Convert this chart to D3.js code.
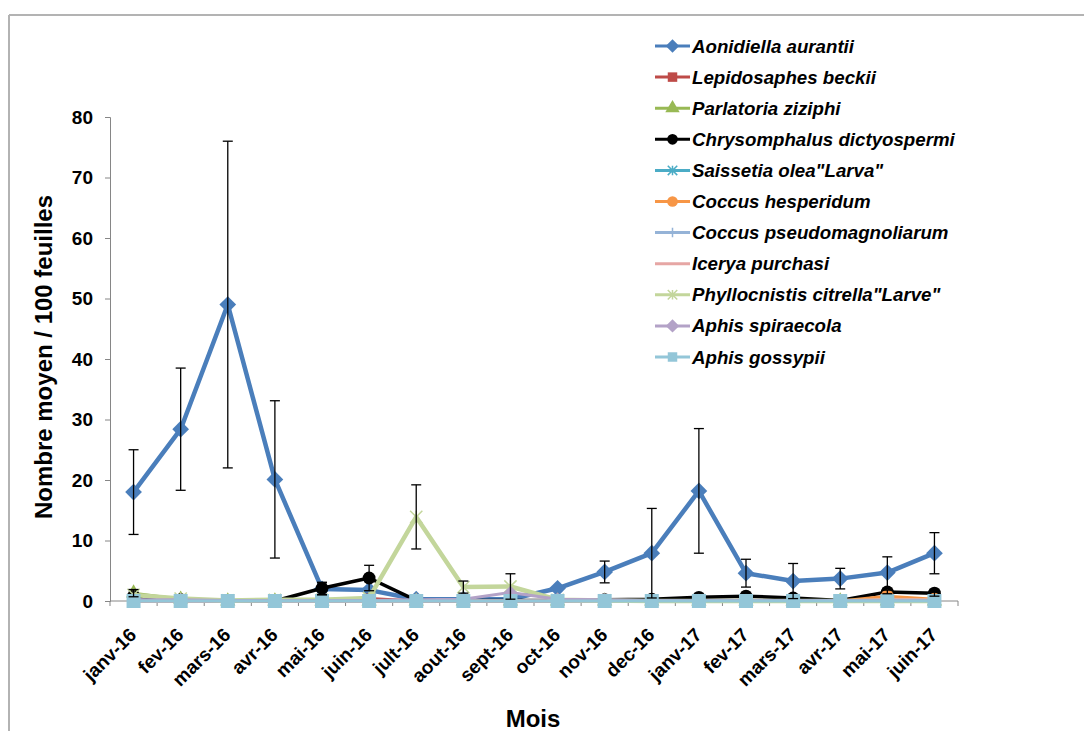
<!DOCTYPE html>
<html><head><meta charset="utf-8">
<script src="https://cdn.jsdelivr.net/npm/d3@7"></script>
<style>html,body{margin:0;padding:0;background:#fff;}svg{display:block;font-family:"Liberation Sans",Arial,sans-serif;}</style>
</head><body>
<script>
const months = ["janv-16","fev-16","mars-16","avr-16","mai-16","juin-16","jult-16","aout-16","sept-16","oct-16","nov-16","dec-16","janv-17","fev-17","mars-17","avr-17","mai-17","juin-17"];
const yTicks = [0,10,20,30,40,50,60,70,80];
const seriesNames = ["Aonidiella aurantii","Lepidosaphes beckii","Parlatoria ziziphi","Chrysomphalus dictyospermi","Saissetia olea\"Larva\"","Coccus hesperidum","Coccus pseudomagnoliarum","Icerya purchasi","Phyllocnistis citrella\"Larve\"","Aphis spiraecola","Aphis gossypii"];
const aonidiella   = [18, 28.4, 49, 20.1, 2.0, 1.8, 0.3, 0.3, 0.3, 2.1, 4.8, 7.9, 18.2, 4.6, 3.3, 3.7, 4.7, 7.9];
const aonidiellaSD = [7, 10.1, 27, 13, 1.0, 0, 0, 0, 0, 0, 1.8, 7.4, 10.3, 2.3, 2.9, 1.7, 2.6, 3.4];
const lepidosaphes = [0, 0, 0, 0, 0.1, 0.4, 0, 0, 0, 0, 0, 0, 0, 0, 0, 0, 0.1, 0.1];
const parlatoria   = [1.3, 0.3, 0, 0, 0, 0, 0, 0, 0, 0, 0, 0, 0, 0, 0, 0, 0, 0];
const parlatoriaSD = [0.6, 0, 0, 0, 0, 0, 0, 0, 0, 0, 0, 0, 0, 0, 0, 0, 0, 0];
const chrysomphalus   = [0.8, 0.2, 0, 0, 2.1, 3.8, 0.1, 0.1, 0.1, 0.1, 0.2, 0.3, 0.6, 0.8, 0.5, 0.1, 1.5, 1.3];
const chrysomphalusSD = [0, 0, 0, 0, 1.0, 2.1, 0, 0, 0, 0, 0, 0, 0, 0, 0, 0, 0.3, 0.5];
const saissetia    = [0, 0, 0, 0, 0, 0, 0, 0, 0, 0, 0.1, 0.1, 0.1, 0.1, 0, 0, 0, 0];
const coccusHesp   = [0, 0, 0, 0, 0, 0, 0, 0, 0, 0, 0, 0, 0, 0, 0, 0, 0.8, 0.3];
const coccusPseudo = [0, 0, 0, 0, 0, 0, 0, 0, 0, 0, 0, 0, 0, 0, 0, 0, 0, 0];
const icerya       = [0, 0, 0, 0, 0, 0, 0, 0, 0, 0, 0, 0, 0, 0, 0, 0, 0.3, 0.2];
const phyllocnistis   = [1.0, 0.4, 0.1, 0.2, 0.2, 0.5, 13.9, 2.3, 2.4, 0.2, 0.1, 0, 0, 0, 0, 0, 0, 0];
const phyllocnistisSD = [0, 0, 0, 0, 0, 0, 5.3, 1.0, 2.1, 0, 0, 0, 0, 0, 0, 0, 0, 0];
const spiraecola   = [0.2, 0.2, 0.1, 0.1, 0.1, 0.1, 0.2, 0.3, 1.4, 0.3, 0.2, 0.1, 0.1, 0.1, 0.1, 0.1, 0.1, 0.1];
const gossypii     = [0, 0, 0, 0, 0, 0, 0, 0, 0, 0, 0, 0, 0, 0, 0, 0, 0, 0];

const W = 1084, H = 731;
const svg = d3.select("body").append("svg").attr("width", W).attr("height", H);

const series = [
  {name: seriesNames[0], values: aonidiella, sd: aonidiellaSD, color: "#4A7EBB", marker: "diamond", size: 140, width: 4.5},
  {name: seriesNames[1], values: lepidosaphes, color: "#BE4B48", marker: "square", size: 100, width: 3},
  {name: seriesNames[2], values: parlatoria, sd: parlatoriaSD, color: "#98B954", marker: "triangle", size: 100, width: 3},
  {name: seriesNames[3], values: chrysomphalus, sd: chrysomphalusSD, color: "#000000", marker: "circle", size: 130, width: 3.5},
  {name: seriesNames[4], values: saissetia, color: "#4BACC6", marker: "star", size: 120, width: 3},
  {name: seriesNames[5], values: coccusHesp, color: "#F79646", marker: "circle", size: 130, width: 3},
  {name: seriesNames[6], values: coccusPseudo, color: "#95B3D7", marker: "plus", size: 120, width: 3},
  {name: seriesNames[7], values: icerya, color: "#E6A6A4", marker: "none", size: 0, width: 3},
  {name: seriesNames[8], values: phyllocnistis, sd: phyllocnistisSD, color: "#C3D69B", marker: "star", size: 150, width: 4.5},
  {name: seriesNames[9], values: spiraecola, color: "#B3A2C7", marker: "diamond", size: 90, width: 3},
  {name: seriesNames[10], values: gossypii, color: "#93C6D8", marker: "square", size: 196, width: 3}
];

// frame
svg.append("line").attr("x1", 9).attr("y1", 15).attr("x2", W).attr("y2", 15).attr("stroke", "#b3b3b3").attr("stroke-width", 2);
svg.append("line").attr("x1", 9).attr("y1", 15).attr("x2", 9).attr("y2", 731).attr("stroke", "#b3b3b3").attr("stroke-width", 2);

const x = d3.scaleBand().domain(months).range([110, 958]);
const cx = m => x(m) + x.bandwidth() / 2;
const y = d3.scaleLinear().domain([0, 80]).range([601, 117]);

// y axis
const yAxis = svg.append("g").attr("transform", "translate(110,0)")
  .call(d3.axisLeft(y).tickValues(yTicks).tickSize(5).tickPadding(12).tickFormat(d3.format("d")));
yAxis.select(".domain").attr("stroke", "#868686");
yAxis.selectAll(".tick line").attr("stroke", "#868686");
yAxis.selectAll("text").attr("font-size", 19).attr("font-weight", "bold").attr("fill", "#000")
  .attr("font-family", "Liberation Sans, Arial, sans-serif");

// x axis
const xg = svg.append("g").attr("transform", "translate(0,601)");
xg.append("line").attr("x1", 110).attr("x2", 958).attr("stroke", "#868686");
const bounds = months.map(m => x(m)).concat([x.range()[1]]);
xg.selectAll("line.tk").data(bounds).join("line").attr("class", "tk")
  .attr("x1", d => d).attr("x2", d => d).attr("y1", 0).attr("y2", 5).attr("stroke", "#868686");
svg.append("g").selectAll("text").data(months).join("text")
  .attr("transform", d => `translate(${cx(d) + 4},636) rotate(-45)`)
  .attr("text-anchor", "end").attr("font-size", 19).attr("font-weight", "bold").text(d => d);

// axis titles
svg.append("text").attr("transform", "translate(52,357) rotate(-90)").attr("text-anchor", "middle")
  .attr("font-size", 24).attr("font-weight", "bold").text("Nombre moyen / 100 feuilles");
svg.append("text").attr("x", 533).attr("y", 727).attr("text-anchor", "middle")
  .attr("font-size", 24).attr("font-weight", "bold").text("Mois");

function markerPath(type, size) {
  switch (type) {
    case "diamond": return d3.symbol(d3.symbolSquare, size)();
    case "square": return d3.symbol(d3.symbolSquare, size)();
    case "triangle": return d3.symbol(d3.symbolTriangle, size)();
    case "circle": return d3.symbol(d3.symbolCircle, size)();
    default: return null;
  }
}
function drawMarker(g, s, px, py) {
  if (s.marker === "star") {
    const r = Math.sqrt(s.size) / 2;
    g.append("path").attr("transform", `translate(${px},${py})`)
      .attr("d", `M${-r},${-r}L${r},${r}M${-r},${r}L${r},${-r}M0,${-r}L0,${r}`)
      .attr("stroke", s.color).attr("stroke-width", 1.5).attr("fill", "none");
  } else if (s.marker === "plus") {
    const r = Math.sqrt(s.size) / 2;
    g.append("path").attr("transform", `translate(${px},${py})`)
      .attr("d", `M${-r},0L${r},0M0,${-r}L0,${r}`)
      .attr("stroke", s.color).attr("stroke-width", 1.5).attr("fill", "none");
  } else if (s.marker !== "none") {
    const rot = s.marker === "diamond" ? " rotate(45)" : "";
    g.append("path").attr("transform", `translate(${px},${py})${rot}`)
      .attr("d", markerPath(s.marker, s.size)).attr("fill", s.color);
  }
}

const line = d3.line().x((d, i) => cx(months[i])).y(d => y(d));
const plot = svg.append("g");
series.forEach(s => {
  const g = plot.append("g");
  g.append("path").datum(s.values).attr("d", line).attr("fill", "none")
    .attr("stroke", s.color).attr("stroke-width", s.width).attr("stroke-linejoin", "round");
  s.values.forEach((v, i) => drawMarker(g, s, cx(months[i]), y(v)));
});

// error bars
const eg = svg.append("g");
series.filter(s => s.sd).forEach(s => {
  s.values.forEach((v, i) => {
    const e = s.sd[i];
    if (!e) return;
    const px = cx(months[i]);
    const top = y(v + e), bot = y(v - e);
    eg.append("line").attr("x1", px).attr("x2", px).attr("y1", top).attr("y2", bot).attr("stroke", "#000").attr("stroke-width", 1.3);
    [top, bot].forEach(yy => eg.append("line").attr("x1", px - 5).attr("x2", px + 5).attr("y1", yy).attr("y2", yy).attr("stroke", "#000").attr("stroke-width", 1.3));
  });
});

// legend
const lg = svg.append("g");
series.forEach((s, i) => {
  const ly = 46 + i * 31.1;
  const row = lg.append("g");
  row.append("line").attr("x1", 655).attr("x2", 690).attr("y1", ly).attr("y2", ly)
    .attr("stroke", s.color).attr("stroke-width", 3);
  drawMarker(row, Object.assign({}, s, {size: Math.min(s.size, 90)}), 672.5, ly);
  row.append("text").attr("x", 692).attr("y", ly + 6.5).attr("font-size", 18.7)
    .attr("font-weight", "bold").attr("font-style", "italic").text(s.name);
});
</script>
</body></html>
